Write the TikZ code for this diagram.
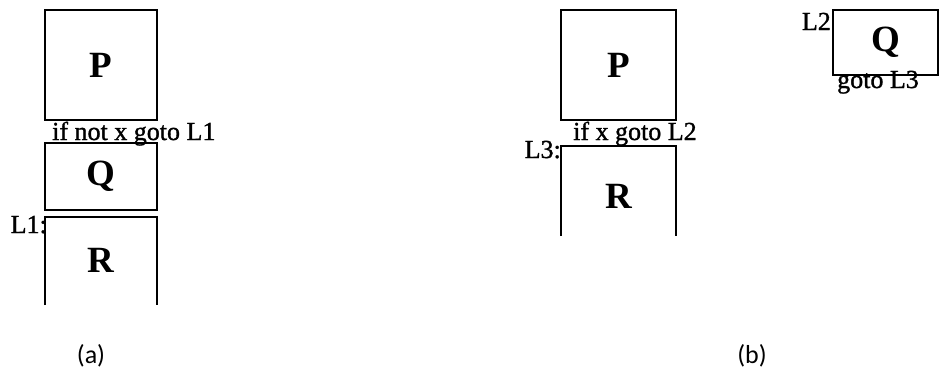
\documentclass[tikz,border=0pt]{standalone}
\usepackage{fontspec}
\setmainfont{Liberation Serif}
\newfontfamily\capfont{Carlito}
\newfontfamily\lblfont[FakeBold=1.2]{Liberation Serif}
\usetikzlibrary{positioning}

\tikzset{
  blk/.style={draw, line width=2.4pt, inner sep=0pt, font=\fontsize{37}{37}\selectfont\bfseries},
  lbl/.style={inner sep=0pt, font=\fontsize{26}{26}\lblfont},
  sublbl/.style={inner sep=0pt, font=\fontsize{26}{26}\selectfont\capfont},
  openside/.style={line width=2.4pt}
}

\begin{document}
\begin{tikzpicture}[x=1pt,y=-1pt]
    \useasboundingbox (0,0) rectangle (939,373);
    % (a) straight layout
    \node[blk, minimum width=112pt, minimum height=110pt] (pa) at (101,65) {P};
    \node[lbl, anchor=base west] (ca) at (52,140) {if not x goto L1};
    \node[blk, minimum width=112pt, minimum height=67pt] (qa) at (101,176.5) {Q};
    \coordinate (ra1) at (45,217);
    \coordinate (ra2) at (157,217);
    \draw[openside] (45,305) -- (ra1) -- (ra2) -- (157,305);
    \node[blk, draw=none] (ra) at (101,260) {R};
    \node[lbl, anchor=base east] (la) at (47,233) {L1:};
    \node[sublbl] (capa) at (91,356) {(a)};

    % (b) with jumps
    \node[blk, minimum width=115pt, minimum height=110pt] (pb) at (618.5,65) {P};
    \node[lbl, anchor=base west] (cb) at (573,140) {if x goto L2};
    \coordinate (rb1) at (561,146);
    \coordinate (rb2) at (676,146);
    \draw[openside] (561,236) -- (rb1) -- (rb2) -- (676,236);
    \node[blk, draw=none] (rb) at (618.5,196) {R};
    \node[lbl, anchor=base east] (lb3) at (561,158) {L3:};
    \node[blk, minimum width=105pt, minimum height=65pt] (qb) at (885.5,42.5) {Q};
    \node[lbl, anchor=base east] (lb2) at (831,30) {L2};
    \node[lbl, anchor=base west] (gb) at (837,88) {goto L3};
    \node[sublbl] (capb) at (752,356) {(b)};
\end{tikzpicture}
\end{document}
